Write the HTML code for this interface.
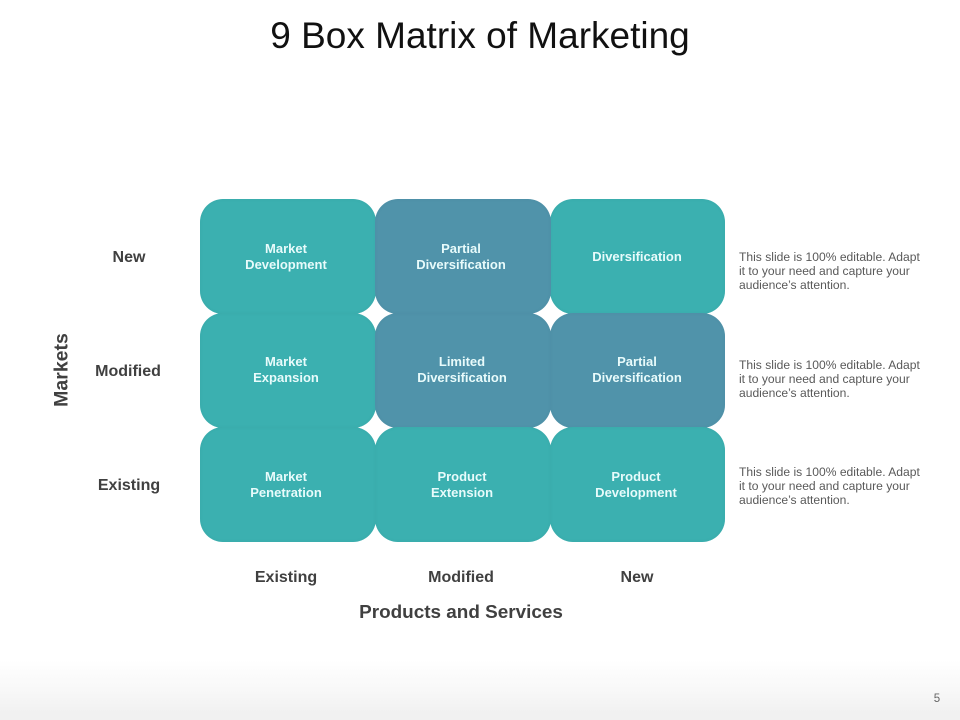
<!DOCTYPE html>
<html>
<head>
<meta charset="utf-8">
<style>
html,body{margin:0;padding:0;background:#fff}
#s{position:relative;width:960px;height:720px;overflow:hidden;background:linear-gradient(to bottom,#fff 0,#fff 660px,#fcfcfc 672px,#f8f8f8 690px,#f1f1f1 712px,#f1f1f1 720px);font-family:"Liberation Sans",sans-serif}
.t{position:absolute;white-space:nowrap;text-align:center;transform:translate(-50%,-50%)}
.b{position:absolute;width:176px;height:115px;border-radius:23px;box-shadow:inset 0 0 5px rgba(0,40,50,.035)}
.g{background:#3bb0b0}
.u{background:#5093aa}
.l{position:absolute;transform:translate(-50%,-50%);text-align:center;color:#e8fbfb;font-weight:bold;font-size:13px;line-height:16px;white-space:nowrap}
.h{font-weight:bold;font-size:16px;color:#404040}
.d{position:absolute;left:739px;font-size:12.1px;line-height:14px;color:#595959;white-space:nowrap}
</style>
</head>
<body>
<div id="s">
<div class="t" style="left:480px;top:36px;font-size:37px;color:#111">9 Box Matrix of Marketing</div>

<div class="b g" style="left:200px;top:199px"></div>
<div class="b g" style="left:550px;top:199px;width:175px"></div>
<div class="b u" style="left:375px;top:199px"></div>
<div class="b g" style="left:200px;top:313px"></div>
<div class="b u" style="left:375px;top:313px"></div>
<div class="b u" style="left:550px;top:313px;width:175px"></div>
<div class="b g" style="left:200px;top:427px"></div>
<div class="b g" style="left:550px;top:427px;width:175px"></div>
<div class="b g" style="left:375px;top:427px"></div>

<div class="l" style="left:286px;top:257px">Market<br>Development</div>
<div class="l" style="left:461px;top:257px">Partial<br>Diversification</div>
<div class="l" style="left:637px;top:257px">Diversification</div>
<div class="l" style="left:286px;top:370px">Market<br>Expansion</div>
<div class="l" style="left:462px;top:370px">Limited<br>Diversification</div>
<div class="l" style="left:637px;top:370px">Partial<br>Diversification</div>
<div class="l" style="left:286px;top:485px">Market<br>Penetration</div>
<div class="l" style="left:462px;top:485px">Product<br>Extension</div>
<div class="l" style="left:636px;top:485px">Product<br>Development</div>

<div class="t h" style="left:129px;top:258px">New</div>
<div class="t h" style="left:128px;top:372px">Modified</div>
<div class="t h" style="left:129px;top:486px">Existing</div>
<div class="t" style="left:62px;top:370px;font-size:19.5px;font-weight:bold;color:#404040;transform:translate(-50%,-50%) rotate(-90deg)">Markets</div>

<div class="t h" style="left:286px;top:578px">Existing</div>
<div class="t h" style="left:461px;top:578px">Modified</div>
<div class="t h" style="left:637px;top:578px">New</div>
<div class="t" style="left:461px;top:613px;font-size:18.9px;font-weight:bold;color:#404040">Products and Services</div>

<div class="d" style="top:250px">This slide is 100% editable. Adapt<br>it to your need and capture your<br>audience’s attention.</div>
<div class="d" style="top:358px">This slide is 100% editable. Adapt<br>it to your need and capture your<br>audience’s attention.</div>
<div class="d" style="top:465px">This slide is 100% editable. Adapt<br>it to your need and capture your<br>audience’s attention.</div>

<div class="t" style="left:937px;top:699px;font-size:11.5px;color:#666">5</div>
</div>
</body>
</html>
